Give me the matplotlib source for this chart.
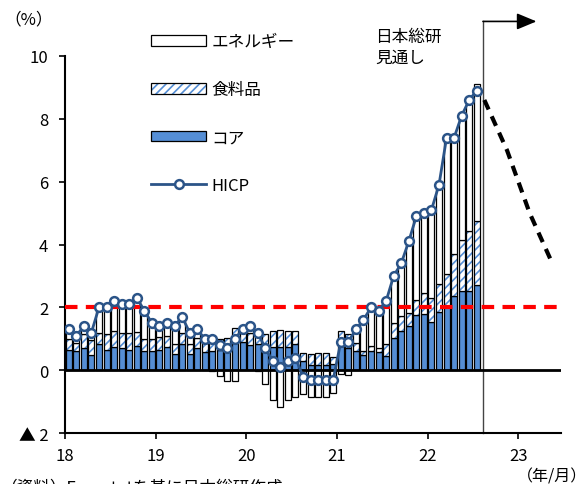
import numpy as np
import matplotlib
matplotlib.use('Agg')
import matplotlib.pyplot as plt
from matplotlib.patches import Patch
from matplotlib.lines import Line2D
from matplotlib.legend_handler import HandlerTuple

plt.rcParams['font.family'] = ['Noto Sans CJK JP', 'DejaVu Sans']
plt.rcParams['hatch.linewidth'] = 1.2

# monthly data, 2018/01 - 2022/07 (% / pp)
hicp = [1.3, 1.1, 1.4, 1.2, 2.0, 2.0, 2.2, 2.1, 2.1, 2.3, 1.9, 1.5,
        1.4, 1.5, 1.4, 1.7, 1.2, 1.3, 1.0, 1.0, 0.8, 0.7, 1.0, 1.3,
        1.4, 1.2, 0.7, 0.3, 0.1, 0.3, 0.4, -0.2, -0.3, -0.3, -0.3, -0.3,
        0.9, 0.9, 1.3, 1.6, 2.0, 1.9, 2.2, 3.0, 3.4, 4.1, 4.9, 5.0,
        5.1, 5.9, 7.4, 7.4, 8.1, 8.6, 8.9]
core = [0.65, 0.62, 0.70, 0.50, 0.82, 0.65, 0.75, 0.70, 0.64, 0.78, 0.62, 0.62,
        0.64, 0.75, 0.52, 0.85, 0.52, 0.70, 0.58, 0.62, 0.65, 0.66, 0.88, 0.90,
        0.80, 0.85, 0.75, 0.75, 0.73, 0.75, 0.85, 0.28, 0.18, 0.18, 0.18, 0.20,
        0.77, 0.72, 0.62, 0.48, 0.62, 0.58, 0.46, 1.04, 1.25, 1.41, 1.77, 1.78,
        1.52, 1.84, 2.00, 2.37, 2.53, 2.53, 2.72]
food = [0.35, 0.25, 0.45, 0.45, 0.38, 0.50, 0.50, 0.50, 0.55, 0.45, 0.36, 0.36,
        0.42, 0.35, 0.32, 0.34, 0.30, 0.34, 0.28, 0.40, 0.35, 0.37, 0.45, 0.38,
        0.38, 0.38, 0.40, 0.50, 0.55, 0.50, 0.40, 0.27, 0.35, 0.37, 0.37, 0.22,
        0.48, 0.43, 0.26, 0.14, 0.15, 0.14, 0.39, 0.46, 0.48, 0.41, 0.45, 0.69,
        0.77, 0.90, 1.06, 1.32, 1.61, 1.89, 2.04]
energy = [0.30, 0.23, 0.25, 0.25, 0.80, 0.85, 0.95, 0.90, 0.91, 1.07, 0.92, 0.52,
          0.34, 0.40, 0.56, 0.51, 0.38, 0.26, 0.14, -0.02, -0.18, -0.33, -0.33, 0.02,
          0.22, -0.03, -0.45, -0.95, -1.18, -0.95, -0.85, -0.75, -0.85, -0.85, -0.85, -0.72,
          -0.13, -0.16, 0.42, 0.98, 1.23, 1.18, 1.35, 1.50, 1.67, 2.28, 2.68, 2.53,
          2.81, 3.16, 4.34, 3.81, 4.01, 4.21, 4.34]

# 日本総研 forecast (quarterly)
fc_x = [2022.625, 2022.875, 2023.125, 2023.375]
fc_y = [8.6, 7.0, 5.0, 3.4]

core = np.array(core)
food = np.array(food)
energy = np.array(energy)
x = 2018 + (np.arange(len(hicp)) + 0.5) / 12
w = 0.8 / 12

core_col = '#558ed5'
line_col = '#2b5488'

fig = plt.figure(figsize=(5.88, 4.85), dpi=100)
ax = fig.add_axes([0.1105, 0.105, 0.8435, 0.7775])

# positive parts stack up from 0, negative energy hangs below 0
pos_base = core + food
en_bottom = np.where(energy >= 0, pos_base, 0)
ax.bar(x, core, w, color=core_col, edgecolor='black', lw=0.9, zorder=2)
ax.bar(x, food, w, bottom=core, color='white', edgecolor=core_col, hatch='////', lw=0, zorder=2)
ax.bar(x, food, w, bottom=core, color='none', edgecolor='black', lw=0.9, zorder=2)
ax.bar(x, energy, w, bottom=en_bottom, color='white', edgecolor='black', lw=0.9, zorder=2)

ax.axhline(0, color='black', lw=2, zorder=3)
ax.axhline(2, color='#ff0000', lw=3, dashes=(3, 2), zorder=4)

ax.plot(x, hicp, color=line_col, lw=2, marker='o', ms=6.3, mfc='white', mec=line_col, mew=1.8, zorder=5)
ax.plot(fc_x, fc_y, color='black', lw=3, dashes=(2.5, 1.8), zorder=5)

# forecast boundary + arrow
vx = 2022.61
ax.plot([vx, vx], [-2, 11.1], color='#444444', lw=1, clip_on=False, zorder=1)
ax.annotate('', xy=(2023.2, 11.1), xytext=(vx, 11.1),
            arrowprops=dict(arrowstyle='-|>,head_length=1.2,head_width=0.5', color='black', lw=1.2,
                            shrinkA=0, shrinkB=0),
            annotation_clip=False)
ax.text(2021.42, 10.3, '日本総研\n見通し', fontsize=12, va='center', ha='left', linespacing=1.3)

ax.set_xlim(2018, 2023.47)
ax.set_ylim(-2, 10)
ax.set_xticks([2018, 2019, 2020, 2021, 2022, 2023])
ax.set_xticklabels(['18', '19', '20', '21', '22', '23'])
ax.set_yticks([-2, 0, 2, 4, 6, 8, 10])
ax.set_yticklabels(['▲ 2', '0', '2', '4', '6', '8', '10'])
ax.tick_params(labelsize=12, length=4, width=1.2, direction='out')
ax.tick_params(axis='x', pad=6)
ax.tick_params(axis='y', pad=8)
for s in ['top', 'right']:
    ax.spines[s].set_visible(False)
for s in ['left', 'bottom']:
    ax.spines[s].set_linewidth(1.5)

fig.text(0.008, 0.958, '（%）', fontsize=12, va='center')
fig.text(0.998, 0.016, '（年/月）', fontsize=11.5, ha='right', va='center')
fig.text(0.0, 0.012, '（資料）Eurostatを基に日本総研作成', fontsize=12, ha='left', va='top')

h_en = Patch(facecolor='white', edgecolor='black', lw=0.9)
h_food = (Patch(facecolor='white', edgecolor=core_col, hatch='////', lw=0),
          Patch(facecolor='none', edgecolor='black', lw=0.9))
h_core = Patch(facecolor=core_col, edgecolor='black', lw=0.9)
h_hicp = Line2D([], [], color=line_col, lw=2, marker='o', ms=6.3, mfc='white', mec=line_col, mew=1.8)
fig.legend([h_en, h_food, h_core, h_hicp], ['エネルギー', '食料品', 'コア', 'HICP'],
           loc='upper left', bbox_to_anchor=(0.232, 0.96), frameon=False, fontsize=12,
           handlelength=3.3, handleheight=0.6, labelspacing=1.85, handletextpad=0.3,
           handler_map={tuple: HandlerTuple(ndivide=1, pad=0)})

fig.savefig('out.png', dpi=100)
